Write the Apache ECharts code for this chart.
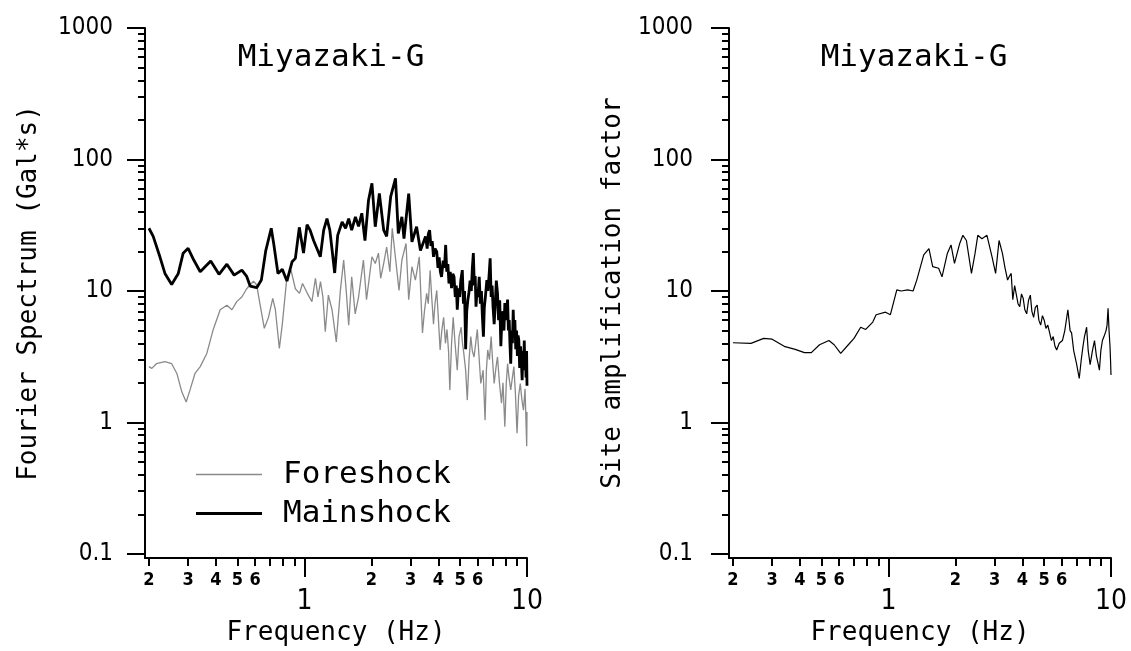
<!DOCTYPE html>
<html><head><meta charset="utf-8">
<script src="https://cdn.jsdelivr.net/npm/echarts@6/dist/echarts.min.js"></script>
<style>html,body{margin:0;padding:0;background:#fff}#c{width:1131px;height:651px}</style>
</head><body><div id="c"></div>
<script>
// ---- data ----
const freqFore = [0.2,0.206,0.216,0.236,0.253,0.267,0.281,0.294,0.306,0.322,0.34,0.364,0.389,0.418,0.448,0.472,0.496,0.523,0.55,0.59,0.61,0.63,0.66,0.689,0.72,0.74,0.771,0.795,0.834,0.87,0.91,0.95,0.98,1.03,1.08,1.12,1.15,1.18,1.21,1.24,1.28,1.33,1.39,1.45,1.5,1.54,1.58,1.63,1.69,1.75,1.84,1.9,2.01,2.08,2.15,2.2,2.27,2.34,2.42,2.48,2.57,2.66,2.74,2.86,2.94,3.04,3.15,3.28,3.39,3.46,3.54,3.6,3.67,3.73,3.8,3.86,3.93,4.0,4.07,4.14,4.22,4.3,4.37,4.44,4.5,4.58,4.66,4.75,4.86,4.95,5.06,5.13,5.2,5.3,5.39,5.49,5.59,5.68,5.78,5.88,5.98,6.1,6.2,6.35,6.48,6.57,6.66,6.78,6.9,7.0,7.12,7.25,7.37,7.52,7.68,7.8,7.95,8.07,8.18,8.3,8.45,8.6,8.73,8.88,9.02,9.17,9.33,9.48,9.64,9.8,9.97,10];
const fore = [2.66,2.58,2.8,2.9,2.8,2.36,1.71,1.43,1.77,2.36,2.66,3.35,5.1,7.2,7.8,7.2,8.3,9.0,10.4,11.9,11.1,8.1,5.2,6.3,8.8,7.2,3.66,5.6,12.8,14.4,10.4,9.6,11.4,9.6,8.3,12.5,9.0,11.8,9.0,4.9,9.3,7.2,4.1,10.1,17.2,10.1,5.5,12.8,6.7,9.0,17.2,8.6,18.2,16.2,19.4,12.5,16.2,21.6,14.0,30,17.2,10.1,17.2,23,8.6,15.3,12.1,18.2,4.8,7,9.6,8,14.4,9,5.6,8,10.1,6,3.56,5,6.3,4,5.1,3.5,1.77,4,6.3,4,2.5,4.5,5.3,4,3.35,2.5,1.48,3,4.5,3.5,3.15,4,5.1,3,1.98,2.5,1.04,2.5,3.56,3,4.5,3,1.98,2.6,3.15,2,1.4,2,0.93,2,2.8,2.2,1.77,2.2,2.66,1.6,0.83,1.6,1.98,1.5,1.24,1.8,0.66,1.2];

const freqMain = [0.2,0.209,0.224,0.236,0.253,0.271,0.285,0.3,0.318,0.34,0.379,0.413,0.448,0.483,0.523,0.55,0.57,0.61,0.64,0.67,0.709,0.727,0.76,0.795,0.834,0.88,0.91,0.948,0.99,1.027,1.06,1.099,1.178,1.22,1.262,1.3,1.367,1.41,1.476,1.53,1.58,1.63,1.694,1.75,1.81,1.87,1.94,2.01,2.08,2.17,2.27,2.34,2.44,2.565,2.64,2.74,2.8,2.94,3.04,3.19,3.32,3.5,3.56,3.6,3.65,3.7,3.75,3.8,3.86,3.93,3.98,4.03,4.08,4.13,4.2,4.26,4.31,4.36,4.41,4.46,4.52,4.58,4.64,4.7,4.76,4.81,4.86,4.92,4.98,5.04,5.12,5.18,5.24,5.3,5.36,5.42,5.48,5.55,5.62,5.68,5.74,5.8,5.85,5.9,5.96,6.02,6.1,6.17,6.24,6.3,6.37,6.43,6.5,6.6,6.67,6.75,6.83,6.9,6.97,7.04,7.12,7.2,7.28,7.37,7.45,7.54,7.63,7.72,7.8,7.88,7.95,8.05,8.12,8.18,8.25,8.32,8.38,8.45,8.52,8.6,8.67,8.75,8.82,8.9,8.98,9.05,9.12,9.19,9.27,9.35,9.43,9.51,9.58,9.65,9.72,9.78,9.84,9.9,9.96,10];
const main = [30,26,18.2,13.6,11.2,13.6,19.4,21.1,17.2,14.0,16.9,13.4,16.0,13.2,14.4,12.9,10.9,10.6,12.1,20.3,30,23,13.6,14.6,11.9,16.7,17.7,30.5,19.4,32,29,24.2,18.2,29,35.5,29,13.7,26.5,33.5,30,35.5,29,36.6,31,39,24.2,49,65.9,30.8,55.3,29,26,52.1,71.9,27.4,36.6,25,55,23.6,30.8,20.3,26,21,27,29,22,24,18.2,21,19.9,15,18,14,12.8,17,15,22.4,14,16,11.4,14,10.5,13.5,12.8,9,11,7.2,10.5,9,12,14.4,8,10,3.6,7,8.5,9.6,12,10,15,19.4,11,13,7.6,10,9,12.8,8,10,6.5,4.5,7.5,9,12.1,10,13,17.7,9,11,7.5,5.6,8,12,9.6,6,8.5,3.8,6.5,7,5,8.1,6,7.5,8.6,5,6,4,2.8,5,4,7.2,4.5,6.0,3.6,5,3.2,4.6,4.2,2.6,3.8,3,2.1,3.5,2.5,4.2,2.8,3.2,2.2,3.5,1.9];

const freqSite = [0.2,0.241,0.275,0.3,0.343,0.381,0.419,0.45,0.49,0.54,0.57,0.61,0.66,0.7,0.75,0.79,0.85,0.88,0.97,1.02,1.09,1.14,1.22,1.29,1.34,1.44,1.52,1.58,1.68,1.74,1.84,1.91,1.98,2.09,2.16,2.24,2.36,2.45,2.52,2.63,2.77,2.92,3.03,3.14,3.25,3.34,3.43,3.5,3.56,3.62,3.69,3.76,3.82,3.89,3.96,4.03,4.1,4.18,4.26,4.34,4.41,4.49,4.57,4.66,4.74,4.83,4.92,5.01,5.1,5.2,5.3,5.4,5.5,5.6,5.7,5.85,6.05,6.2,6.4,6.55,6.65,6.8,7.0,7.2,7.35,7.48,7.6,7.77,7.9,8.06,8.25,8.43,8.6,8.75,8.87,9.0,9.15,9.3,9.5,9.6,9.7,9.8,9.9,9.95,10];
const site = [4.04,4.0,4.36,4.3,3.77,3.6,3.4,3.4,3.9,4.2,3.9,3.35,3.9,4.36,5.3,5.1,5.8,6.6,6.9,6.6,10.2,10,10.2,10,12.1,18.8,21,15.3,14.9,12.8,19.4,22.4,16.2,23,26.5,24.2,13.6,19.4,26.5,25,26.5,18.2,13.6,24.2,19.4,15,12.1,13,13.6,8.6,11,10.7,8,7.6,9.5,8.8,7.2,6.7,8.5,9.3,7,6.3,7.5,7.8,6,5.5,6.5,6.0,5.2,5.5,4.8,4.2,4.5,3.8,3.56,4.0,4.2,5,7.2,5,4.8,3.5,2.8,2.16,3,3.77,4.5,5.3,3.5,2.75,3.5,4.2,3.2,2.8,2.5,3.5,4.2,4.5,5,5.5,7.4,5,3.77,3.0,2.3];

const xMinorTicks = [0.2,0.3,0.4,0.5,0.6,0.7,0.8,0.9,2,3,4,5,6,7,8,9];
const xMinorLabels = [0.2,0.3,0.4,0.5,0.6,2,3,4,5,6];
const xMajor = [1,10];
const yMinorTicks = [0.2,0.3,0.4,0.5,0.6,0.7,0.8,0.9,2,3,4,5,6,7,8,9,20,30,40,50,60,70,80,90,200,300,400,500,600,700,800,900];
const yMajor = [0.1,1,10,100,1000];

// ---- layout ----
const XMIN = 0.192, XMAX = 10, YMIN = 0.0932, YMAX = 1000;
const MONO = "'DejaVu Sans Mono','Liberation Mono',monospace";
const NARROW = "'DejaVu Sans Condensed','Liberation Sans Narrow',sans-serif";
const toPairs = (xs, ys) => xs.map((x, i) => [x, ys[i]]);
const fmtMinor = v => String(Math.round(v < 1 ? v * 10 : v));
const fmtMajor = v => String(parseFloat(Number(v).toPrecision(3)));
const line = {color: '#000', width: 2};

function xAxes(g, name) {
  return [
    {type: 'log', logBase: 10, gridIndex: g, position: 'bottom', min: XMIN, max: XMAX,
     axisLine: {show: true, onZero: false, lineStyle: line},
     axisTick: {show: true, length: 8, lineStyle: line, customValues: xMinorTicks},
     axisLabel: {show: true, customValues: xMinorLabels, formatter: fmtMinor, margin: 13,
                 fontFamily: NARROW, fontWeight: 'bold', fontSize: 18, color: '#000'},
     splitLine: {show: false}, minorTick: {show: false},
     name: name, nameLocation: 'middle', nameGap: 62,
     nameTextStyle: {fontFamily: MONO, fontSize: 26, color: '#000'}},
    {type: 'log', logBase: 10, gridIndex: g, position: 'bottom', min: XMIN, max: XMAX,
     axisLine: {show: false},
     axisTick: {show: true, length: 19, lineStyle: line, customValues: xMajor},
     axisLabel: {show: true, customValues: xMajor, formatter: fmtMajor, margin: 30,
                 fontFamily: NARROW, fontSize: 28, color: '#000'},
     splitLine: {show: false}}
  ];
}
function yAxes(g, name, labMargin) {
  return [
    {type: 'log', logBase: 10, gridIndex: g, position: 'left', min: YMIN, max: YMAX,
     axisLine: {show: true, onZero: false, lineStyle: line},
     axisTick: {show: true, length: 7, lineStyle: line, customValues: yMinorTicks},
     axisLabel: {show: false}, splitLine: {show: false}, minorTick: {show: false},
     name: name, nameLocation: 'middle', nameGap: 103, nameRotate: 90,
     nameTextStyle: {fontFamily: MONO, fontSize: 26, color: '#000'}},
    {type: 'log', logBase: 10, gridIndex: g, position: 'left', min: YMIN, max: YMAX,
     axisLine: {show: false},
     axisTick: {show: true, length: 18, lineStyle: line, customValues: yMajor},
     axisLabel: {show: true, customValues: yMajor, formatter: fmtMajor, margin: labMargin,
                 fontFamily: NARROW, fontSize: 24, color: '#000'},
     splitLine: {show: false}}
  ];
}

const chart = echarts.init(document.getElementById('c'), null, {renderer: 'canvas'});
chart.setOption({
  animation: false,
  backgroundColor: '#fff',
  grid: [
    {left: 145, top: 28, width: 382, height: 530},
    {left: 729, top: 28, width: 382, height: 530}
  ],
  xAxis: [...xAxes(0, 'Frequency (Hz)'), ...xAxes(1, 'Frequency (Hz)')],
  yAxis: [...yAxes(0, 'Fourier Spectrum (Gal*s)', 32), ...yAxes(1, 'Site amplification factor', 36)],
  legend: {
    data: [
      {name: 'Foreshock', icon: 'path://M0,0H66V1.4H0Z'},
      {name: 'Mainshock', icon: 'path://M0,0H66V2.8H0Z'}
    ],
    orient: 'vertical', left: 196, top: 459, padding: 0,
    itemWidth: 66, itemHeight: 20, itemGap: 8,
    textStyle: {fontFamily: MONO, fontSize: 31, color: '#000', padding: [0, 0, 0, 16]}
  },
  graphic: [
    {type: 'text', x: 331, y: 58, style: {text: 'Miyazaki-G', align: 'center', verticalAlign: 'middle',
      font: "31px 'DejaVu Sans Mono'", fill: '#000'}},
    {type: 'text', x: 914, y: 58, style: {text: 'Miyazaki-G', align: 'center', verticalAlign: 'middle',
      font: "31px 'DejaVu Sans Mono'", fill: '#000'}}
  ],
  series: [
    {name: 'Foreshock', type: 'line', xAxisIndex: 0, yAxisIndex: 0, data: toPairs(freqFore, fore),
     symbol: 'none', lineStyle: {color: '#8a8a8a', width: 1.3}, itemStyle: {color: '#8a8a8a'}},
    {name: 'Mainshock', type: 'line', xAxisIndex: 0, yAxisIndex: 0, data: toPairs(freqMain, main),
     symbol: 'none', lineStyle: {color: '#000', width: 2.8}, itemStyle: {color: '#000'}},
    {name: 'Site', type: 'line', xAxisIndex: 2, yAxisIndex: 2, data: toPairs(freqSite, site),
     symbol: 'none', lineStyle: {color: '#000', width: 1.2}, itemStyle: {color: '#000'}}
  ]
});
</script></body></html>
